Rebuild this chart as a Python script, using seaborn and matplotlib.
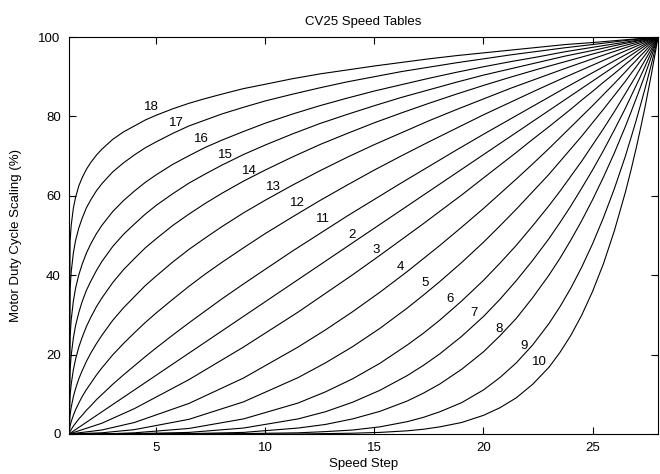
import matplotlib
matplotlib.use("Agg")
import matplotlib.pyplot as plt
import pandas as pd
import seaborn as sns

STEPS_LOW = [1, 1.05, 1.1, 1.2, 1.3, 1.45, 1.6, 1.8, 2, 2.25, 2.5, 3, 3.5, 4, 4.5, 5,
             5.75, 6.5, 7.25, 8, 9, 10, 11.25, 12.5, 13.75, 15, 16.25, 17.5, 18.75,
             20, 21.25, 22.5, 23.75, 25, 26.5, 28]
STEPS_HIGH = [1, 2.5, 4, 6.5, 9, 11.5, 12.75, 14, 15.25, 16.5, 17.25, 18, 19, 20, 20.75,
              21.5, 22.25, 23, 23.5, 24, 24.5, 25, 25.5, 26, 26.5, 26.75, 27, 27.2, 27.4,
              27.7, 27.9, 28]
STEPS_LINEAR = [1, 28]

# CV25 tables 11-18 (fast start), read at STEPS_LOW
table_18 = [0, 48.5, 52.5, 56.9, 59.6, 62.5, 64.5, 66.7, 68.4, 70.2, 71.7, 74.2, 76.1, 77.6,
            79.1, 80.3, 81.9, 83.3, 84.5, 85.6, 87.0, 88.1, 89.5, 90.7, 91.7, 92.7, 93.6,
            94.5, 95.3, 96.0, 96.7, 97.4, 98.1, 98.6, 99.3, 100]
table_17 = [0, 36.6, 40.8, 45.6, 48.7, 51.9, 54.3, 57.0, 59.0, 61.2, 63.0, 66.0, 68.3, 70.3,
            72.1, 73.6, 75.7, 77.6, 79.1, 80.6, 82.3, 83.9, 85.6, 87.2, 88.7, 90.0, 91.3,
            92.4, 93.5, 94.5, 95.5, 96.4, 97.3, 98.1, 99.1, 100]
table_16 = [0, 24.6, 28.7, 33.5, 36.7, 40.1, 42.7, 45.6, 47.9, 50.4, 52.5, 56.0, 58.8, 61.2,
            63.4, 65.3, 67.9, 70.1, 72.2, 74.0, 76.2, 78.3, 80.6, 82.7, 84.6, 86.4, 88.0,
            89.6, 91.1, 92.5, 93.8, 95.0, 96.3, 97.4, 98.7, 100]
table_15 = [0, 16.2, 19.8, 24.2, 27.3, 30.6, 33.3, 36.2, 38.5, 41.1, 43.4, 47.2, 50.3, 52.9,
            55.4, 57.6, 60.5, 63.2, 65.5, 67.7, 70.4, 72.8, 75.6, 78.2, 80.5, 82.7, 84.8,
            86.7, 88.6, 90.4, 92.0, 93.6, 95.2, 96.6, 98.4, 100]
table_14 = [0, 9.7, 12.5, 16.2, 18.8, 21.9, 24.3, 27.1, 29.4, 32.0, 34.2, 38.1, 41.4, 44.2,
            46.9, 49.2, 52.5, 55.4, 58.1, 60.6, 63.7, 66.5, 69.8, 72.9, 75.7, 78.4, 80.9,
            83.3, 85.6, 87.8, 89.9, 91.9, 93.8, 95.7, 97.9, 100]
table_13 = [0, 4.8, 6.7, 9.4, 11.4, 13.9, 15.9, 18.3, 20.4, 22.7, 24.8, 28.6, 31.8, 34.6,
            37.4, 39.8, 43.3, 46.5, 49.4, 52.2, 55.7, 58.9, 62.7, 66.3, 69.7, 72.9, 75.9,
            78.9, 81.7, 84.4, 87.1, 89.6, 92.1, 94.5, 97.3, 100]
table_12 = [0, 2.0, 3.1, 4.7, 6.1, 7.8, 9.4, 11.2, 12.8, 14.8, 16.6, 19.9, 22.8, 25.5,
            28.1, 30.5, 33.9, 37.2, 40.3, 43.2, 46.9, 50.5, 54.7, 58.8, 62.7, 66.5, 70.1,
            73.6, 77.0, 80.4, 83.6, 86.8, 89.9, 92.9, 96.5, 100]
table_11 = [0, 0.7, 1.1, 2.0, 2.7, 3.8, 4.7, 6.0, 7.1, 8.6, 9.9, 12.5, 14.9, 17.2,
            19.5, 21.7, 24.9, 28.0, 31.0, 34.0, 37.8, 41.5, 46.1, 50.5, 54.9, 59.1, 63.3,
            67.4, 71.5, 75.5, 79.4, 83.3, 87.2, 91.0, 95.5, 100]

# table 2 is the straight line
table_2 = [0, 100]

# CV25 tables 3-10 (slow start), read at STEPS_HIGH
table_3 = [0, 2.7, 6.4, 13.7, 21.9, 30.7, 35.4, 40.1, 45.0, 50.0, 53.0, 56.1, 60.2, 64.5,
           67.7, 70.9, 74.2, 77.4, 79.6, 81.8, 84.1, 86.3, 88.6, 90.8, 93.1, 94.2, 95.4,
           96.3, 97.2, 98.6, 99.5, 100]
table_4 = [0, 1.0, 2.9, 7.7, 14.1, 21.9, 26.2, 30.8, 35.7, 40.9, 44.2, 47.5, 52.1, 56.8,
           60.5, 64.2, 68.0, 71.9, 74.6, 77.3, 80.0, 82.7, 85.5, 88.3, 91.2, 92.7, 94.1,
           95.3, 96.4, 98.2, 99.4, 100]
table_5 = [0, 0.3, 1.1, 3.7, 8.1, 14.2, 17.9, 22.0, 26.6, 31.7, 35.0, 38.4, 43.2, 48.3,
           52.4, 56.6, 61.0, 65.4, 68.6, 71.8, 75.0, 78.4, 81.8, 85.3, 88.8, 90.7, 92.5,
           94.0, 95.4, 97.7, 99.2, 100]
table_6 = [0, 0.0, 0.3, 1.4, 3.8, 7.8, 10.6, 13.9, 17.8, 22.4, 25.4, 28.7, 33.5, 38.7,
           43.0, 47.5, 52.4, 57.5, 61.1, 64.9, 68.7, 72.8, 76.9, 81.2, 85.7, 88.0, 90.3,
           92.2, 94.1, 97.0, 99.0, 100]
table_7 = [0, 0.0, 0.1, 0.4, 1.5, 3.8, 5.6, 8.0, 11.0, 14.7, 17.3, 20.2, 24.6, 29.6,
           33.9, 38.6, 43.7, 49.2, 53.2, 57.4, 61.9, 66.5, 71.4, 76.6, 82.0, 84.9, 87.8,
           90.1, 92.5, 96.2, 98.7, 100]
table_8 = [0, 0.0, 0.0, 0.1, 0.4, 1.5, 2.4, 3.8, 5.7, 8.3, 10.3, 12.6, 16.3, 20.7,
           24.7, 29.1, 34.3, 40.0, 44.2, 48.8, 53.7, 59.0, 64.7, 70.8, 77.4, 80.9, 84.5,
           87.4, 90.4, 95.1, 98.4, 100]
table_9 = [0, 0.0, 0.0, 0.0, 0.1, 0.3, 0.6, 1.0, 1.8, 3.1, 4.2, 5.6, 7.9, 11.1,
           14.2, 17.9, 22.4, 27.8, 32.0, 36.7, 42.0, 47.9, 54.5, 61.8, 69.9, 74.4, 79.0,
           82.9, 86.9, 93.2, 97.7, 100]
table_10 = [0, 0.0, 0.0, 0.0, 0.0, 0.0, 0.1, 0.2, 0.4, 0.8, 1.2, 1.8, 2.9, 4.7,
            6.6, 9.1, 12.5, 16.8, 20.5, 24.8, 29.9, 35.9, 42.9, 51.2, 60.8, 66.2, 72.0,
            77.0, 82.2, 90.7, 96.8, 100]

# curve labels (table number and where the number sits)
LABEL_TABLES = ["18", "17", "16", "15", "14", "13", "12", "11", "2",
                "3", "4", "5", "6", "7", "8", "9", "10"]
LABEL_STEPS = [4.77, 5.91, 7.05, 8.15, 9.25, 10.39, 11.48, 12.63, 13.95,
               15.09, 16.18, 17.33, 18.47, 19.56, 20.71, 21.85, 22.58]
LABEL_VALUES = [82.4, 78.3, 74.3, 70.3, 66.2, 62.2, 58.2, 54.2, 50.1,
                46.3, 42.1, 38.0, 34.0, 30.5, 26.4, 22.2, 18.1]

tables = [
    ("18", STEPS_LOW, table_18), ("17", STEPS_LOW, table_17),
    ("16", STEPS_LOW, table_16), ("15", STEPS_LOW, table_15),
    ("14", STEPS_LOW, table_14), ("13", STEPS_LOW, table_13),
    ("12", STEPS_LOW, table_12), ("11", STEPS_LOW, table_11),
    ("2", STEPS_LINEAR, table_2),
    ("3", STEPS_HIGH, table_3), ("4", STEPS_HIGH, table_4),
    ("5", STEPS_HIGH, table_5), ("6", STEPS_HIGH, table_6),
    ("7", STEPS_HIGH, table_7), ("8", STEPS_HIGH, table_8),
    ("9", STEPS_HIGH, table_9), ("10", STEPS_HIGH, table_10),
]
df = pd.concat(
    [pd.DataFrame({"step": s, "scaling": v, "table": name}) for name, s, v in tables],
    ignore_index=True,
)

sns.set_theme(style="ticks")
plt.rcParams["font.family"] = ["Liberation Sans", "DejaVu Sans"]
FS = 9.5

fig = plt.figure(figsize=(6.6, 4.74), dpi=100)
ax = fig.add_axes([69 / 660, 40 / 474, 589 / 660, 397 / 474])

sns.lineplot(
    data=df, x="step", y="scaling", hue="table",
    palette={name: "black" for name, _, _ in tables},
    legend=False, errorbar=None, linewidth=0.8, ax=ax,
)

for name, x, y in zip(LABEL_TABLES, LABEL_STEPS, LABEL_VALUES):
    ax.text(x, y, name, ha="center", va="center", fontsize=FS, color="black")

ax.set_xlim(1, 28)
ax.set_ylim(0, 100)
ax.set_xticks([5, 10, 15, 20, 25])
ax.set_yticks([0, 20, 40, 60, 80, 100])
ax.tick_params(direction="in", length=5, width=0.8, top=True, right=True,
               labelsize=FS, pad=6, color="black", labelcolor="black")
for spine in ax.spines.values():
    spine.set_visible(True)
    spine.set_color("black")
    spine.set_linewidth(0.8)

ax.set_title("CV25 Speed Tables", fontsize=FS, pad=9, color="black")
ax.set_xlabel("Speed Step", fontsize=FS, labelpad=3, color="black")
ax.set_ylabel("Motor Duty Cycle Scaling (%)", fontsize=FS, labelpad=12, color="black")

fig.savefig("out.png", dpi=100, facecolor="white")
